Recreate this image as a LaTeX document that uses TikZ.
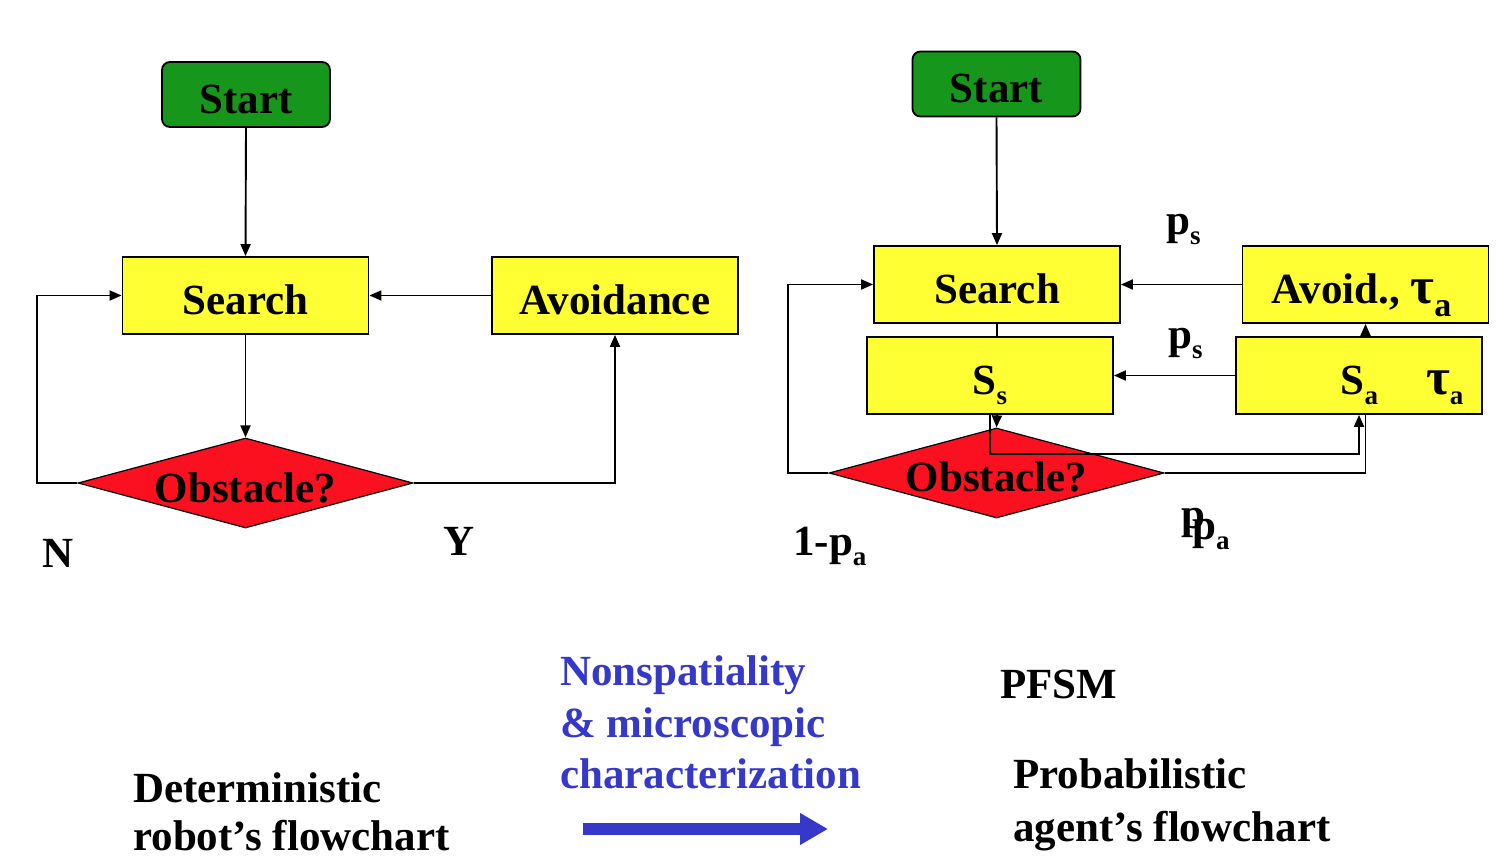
\documentclass[tikz,border=0pt]{standalone}
\usepackage{fontspec}
\setmainfont{Liberation Serif}
\usetikzlibrary{arrows.meta,shapes.geometric,calc}
\definecolor{boxyellow}{RGB}{255,255,51}
\definecolor{startgreen}{RGB}{22,150,26}
\definecolor{obsred}{RGB}{250,16,30}
\definecolor{notblue}{RGB}{53,56,200}
\newcommand\sbs[1]{\raisebox{-10pt}{\fontsize{27}{27}\selectfont #1}}
\newcommand\bigsbs[1]{\raisebox{-13pt}{\fontsize{34}{34}\selectfont #1}}
\newcommand\tauletter{\scalebox{1.2}{τ}}
\begin{document}
\begin{tikzpicture}[x=1pt,y=-1pt,
  bigfont/.style={font=\fontsize{43}{48}\selectfont\bfseries},
  boxtext/.style={bigfont, text height=38pt, text depth=0pt, inner sep=0pt},
  startbox/.style={boxtext, draw=black, line width=1.8pt, fill=startgreen, rounded corners=8pt,
    minimum width=168pt, minimum height=65pt},
  statebox/.style={boxtext, draw=black, line width=1.8pt, fill=boxyellow,
    minimum width=246pt, minimum height=77pt},
  decision/.style={bigfont, inner sep=0pt, text height=0pt, text depth=0pt,
    diamond, aspect=3.7, draw=black, line width=1.2pt, fill=obsred,
    minimum width=335pt, minimum height=90pt},
  lbl/.style={bigfont, anchor=base west, inner sep=0pt},
  conn/.style={draw=black, line width=1.9pt},
  arr/.style={conn, -{Triangle[length=12pt,width=10pt]}}
]
\useasboundingbox (0,0) rectangle (1504,864);

% ---------- left flowchart ----------
\node[startbox] (LStart) at (246,94.5) {Start};
\node[statebox] (LSearch) at (245.5,295.5) {Search};
\node[statebox] (LAvoid) at (615,295.5) {Avoidance};
\node[decision] (LObs) at (245.5,483) {\raisebox{-19pt}{Obstacle?}};

\draw[arr] (LStart.south) -- (LSearch.north);
\draw[arr] (LSearch.south) -- (LObs.north);
\draw[arr] (LAvoid.west) -- (LSearch.east);
\draw[arr] (LObs.east) -| (LAvoid.south);
\draw[arr] (LObs.west) -- ++(-40,0) |- (LSearch.west);

\node[lbl] (N) at (42,567) {N};
\node[lbl] (Y) at (443,555) {Y};

% ---------- right flowchart ----------
\node[startbox] (RStart) at (996.5,84) {Start};
\node[statebox] (RSearch) at (997,284.5) {Search};
\node[statebox] (RAvoid) at (1365.5,284.5) {\hspace*{-8pt}Avoid., \tauletter\bigsbs{a}};
\node[statebox] (RSs) at (990,375.5) {S\sbs{s}};
\node[statebox] (RSa) at (1359,375.5) {\hspace*{86pt}S\sbs{a}\hspace{48pt}\tauletter\sbs{a}};
\node[decision] (RObs) at (996.5,473) {\raisebox{-18pt}{Obstacle?}};

\draw[arr] (RStart.south) -- (RSearch.north);
\draw[conn] (RSearch.south) -- (RSearch.south |- RSs.north);
\draw[arr] (RSearch.south |- RSs.south) -- (RObs.north);
\draw[arr] (RAvoid.west) -- (RSearch.east);
\draw[arr] (RSa.west) -- (RSs.east);
\draw[arr] (RAvoid.south |- RSa.north) -- (RAvoid.south);
\draw[arr] (RObs.west) -- ++(-40,0) |- (RSearch.west);
\draw[conn] (RObs.east) -| (RAvoid.south |- RSa.south);
\draw[arr] (RSs.south) -- ++(0,39) -| (RSa.south);

\node[lbl] (ps1) at (1166,234) {p\sbs{s}};
\node[lbl] (ps2) at (1168,348) {p\sbs{s}};
\node[lbl] (oneminus) at (793,555) {1-p\sbs{a}};
\node[lbl] (pp) at (1181,528) {p};
\node[lbl] (pa) at (1192,539) {p\sbs{a}};

% ---------- bottom texts ----------
\node[lbl] (det1) at (133,802) {Deterministic};
\node[lbl] (det2) at (133,850) {robot’s flowchart};

\node[lbl, text=notblue] (ns1) at (560,685) {Nonspatiality};
\node[lbl, text=notblue] (ns2) at (560,737) {\& microscopic};
\node[lbl, text=notblue] (ns3) at (560,788) {characterization};
\coordinate (ba) at (583,829);
\coordinate (bb) at (828,829);
\draw[notblue, line width=12pt, -{Triangle[length=28pt,width=30pt]}] (ba) -- (bb);

\node[lbl] (pfsm) at (1000,698) {PFSM};
\node[lbl] (prob1) at (1013,788) {Probabilistic};
\node[lbl] (prob2) at (1013,841) {agent’s flowchart};
\end{tikzpicture}
\end{document}
